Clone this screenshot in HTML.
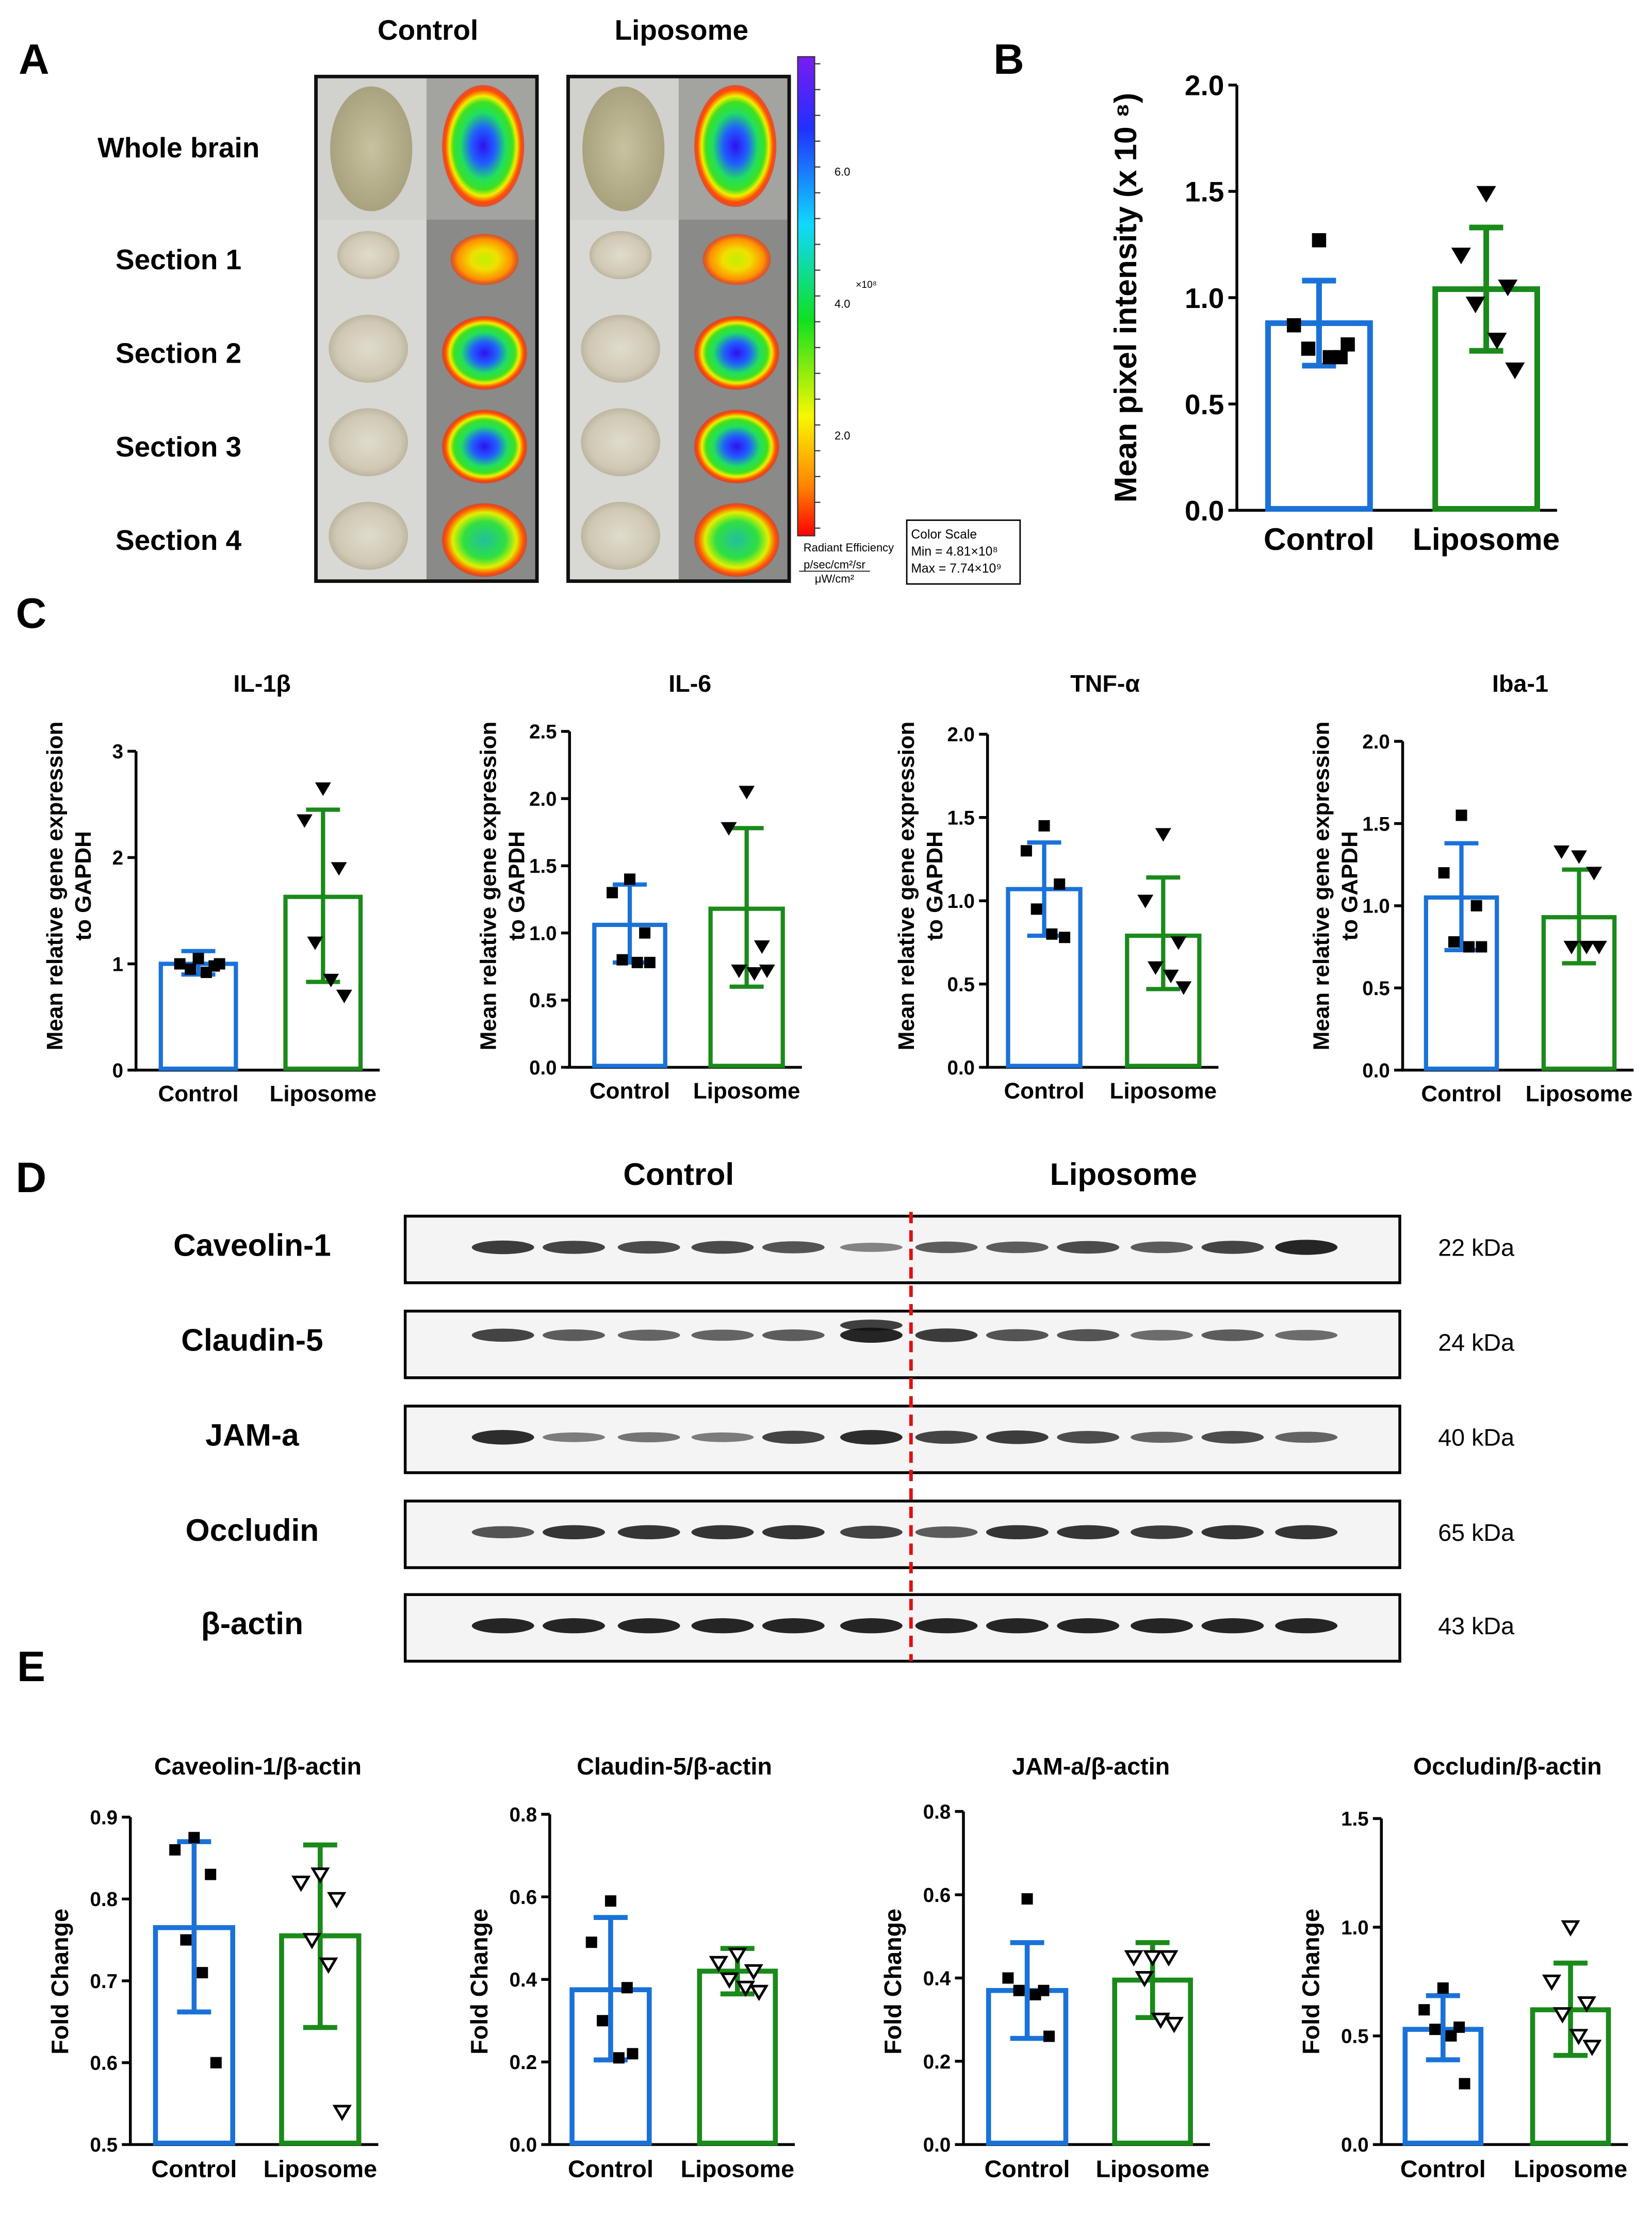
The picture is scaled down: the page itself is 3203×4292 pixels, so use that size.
<!DOCTYPE html>
<html><head><meta charset="utf-8"><style>
html,body{margin:0;padding:0;background:#fff;}
svg{display:block;font-family:"Liberation Sans",Arial,sans-serif;}
</style></head><body>
<svg id="fig" width="3203" height="4292" viewBox="0 0 1166 1562" preserveAspectRatio="none" xmlns="http://www.w3.org/2000/svg">
<defs>
<linearGradient id="cbar" x1="0" y1="0" x2="0" y2="1">
<stop offset="0" stop-color="#7a1cf0"/><stop offset="0.15" stop-color="#2030ff"/><stop offset="0.35" stop-color="#10d8ff"/><stop offset="0.55" stop-color="#10e020"/><stop offset="0.75" stop-color="#f8f800"/><stop offset="0.9" stop-color="#ff8000"/><stop offset="1" stop-color="#ff0000"/>
</linearGradient>
<radialGradient id="heat"><stop offset="0" stop-color="#3010f0"/><stop offset="0.3" stop-color="#2060ff"/><stop offset="0.55" stop-color="#20e060"/><stop offset="0.72" stop-color="#40e020"/><stop offset="0.82" stop-color="#f0f000"/><stop offset="0.92" stop-color="#ff5000"/><stop offset="1" stop-color="#ff2000" stop-opacity="0.6"/></radialGradient>
<radialGradient id="heat2"><stop offset="0" stop-color="#20c0a0"/><stop offset="0.5" stop-color="#30e040"/><stop offset="0.75" stop-color="#e0f000"/><stop offset="0.9" stop-color="#ff6000"/><stop offset="1" stop-color="#ff2000" stop-opacity="0.6"/></radialGradient>
<radialGradient id="heat3"><stop offset="0" stop-color="#c0f000"/><stop offset="0.4" stop-color="#f0e000"/><stop offset="0.8" stop-color="#ff9000"/><stop offset="1" stop-color="#ff3000" stop-opacity="0.6"/></radialGradient>
<radialGradient id="brain"><stop offset="0" stop-color="#e0dccc"/><stop offset="0.8" stop-color="#cfc8b4"/><stop offset="1" stop-color="#bdb69f"/></radialGradient>
<radialGradient id="wbrain"><stop offset="0" stop-color="#c8c2a0"/><stop offset="1" stop-color="#a9a27e"/></radialGradient>
</defs>
<g id="root"></g>
</svg>
<script>
// ---------- data ----------
const groups = ["Control", "Liposome"];
// Panel B
const bMeans = [0.88, 1.04];
const bErrLo = [0.68, 0.75];
const bErrHi = [1.08, 1.33];
const bCtrlPts = [1.27, 0.87, 0.72, 0.76, 0.72, 0.78];
const bLipoPts = [1.49, 1.20, 1.05, 0.97, 0.80, 0.66];
const bTicks = ["0.0", "0.5", "1.0", "1.5", "2.0"];
// Panel C
const cTitles = ["IL-1β", "IL-6", "TNF-α", "Iba-1"];
const cMeans = [[1.0, 1.63], [1.06, 1.18], [1.07, 0.79], [1.05, 0.93]];
const cErrLo = [[0.9, 0.83], [0.78, 0.6], [0.79, 0.47], [0.73, 0.65]];
const cErrHi = [[1.12, 2.45], [1.36, 1.78], [1.35, 1.14], [1.38, 1.22]];
const cCtrlPts = [[1.05, 1.0, 0.98, 0.95, 0.92, 1.0], [1.4, 1.3, 1.0, 0.8, 0.78, 0.78], [1.45, 1.3, 1.1, 0.95, 0.8, 0.78], [1.55, 1.2, 1.0, 0.78, 0.75, 0.75]];
const cLipoPts = [[2.65, 2.35, 1.9, 1.2, 0.85, 0.7], [2.05, 1.78, 0.9, 0.72, 0.7, 0.72], [1.4, 1.0, 0.75, 0.6, 0.55, 0.48], [1.3, 1.33, 1.2, 0.75, 0.75, 0.75]];
const cMax = [3, 2.5, 2.0, 2.0];
const cTicks = [["0", "1", "2", "3"], ["0.0", "0.5", "1.0", "1.5", "2.0", "2.5"], ["0.0", "0.5", "1.0", "1.5", "2.0"], ["0.0", "0.5", "1.0", "1.5", "2.0"]];
// Panel D
const blotNames = ["Caveolin-1", "Claudin-5", "JAM-a", "Occludin", "β-actin"];
const blotKda = ["22 kDa", "24 kDa", "40 kDa", "65 kDa", "43 kDa"];
const bandIntensity = [
 [0.8, 0.75, 0.7, 0.72, 0.65, 0.35, 0.6, 0.6, 0.7, 0.6, 0.75, 0.95],
 [0.75, 0.6, 0.55, 0.55, 0.6, 0.95, 0.8, 0.65, 0.65, 0.5, 0.6, 0.5],
 [0.9, 0.4, 0.45, 0.4, 0.75, 0.9, 0.75, 0.8, 0.7, 0.55, 0.7, 0.55],
 [0.65, 0.85, 0.85, 0.85, 0.85, 0.75, 0.6, 0.85, 0.85, 0.8, 0.85, 0.85],
 [0.95, 0.95, 0.95, 0.95, 0.95, 0.95, 0.95, 0.95, 0.95, 0.95, 0.95, 0.95]
];
// Panel E
const eTitles = ["Caveolin-1/β-actin", "Claudin-5/β-actin", "JAM-a/β-actin", "Occludin/β-actin"];
const eMeans = [[0.765, 0.755], [0.375, 0.42], [0.37, 0.395], [0.53, 0.62]];
const eErrLo = [[0.662, 0.643], [0.205, 0.365], [0.255, 0.305], [0.39, 0.41]];
const eErrHi = [[0.87, 0.866], [0.55, 0.475], [0.485, 0.485], [0.685, 0.835]];
const eCtrlPts = [[0.875, 0.86, 0.83, 0.75, 0.71, 0.6], [0.59, 0.49, 0.38, 0.3, 0.21, 0.22], [0.59, 0.4, 0.37, 0.37, 0.36, 0.26], [0.72, 0.62, 0.54, 0.53, 0.5, 0.28]];
const eLipoPts = [[0.83, 0.82, 0.8, 0.75, 0.72, 0.54], [0.46, 0.44, 0.42, 0.4, 0.38, 0.37], [0.45, 0.45, 0.45, 0.4, 0.3, 0.29], [1.0, 0.75, 0.65, 0.6, 0.5, 0.45]];
const eMin = [0.5, 0, 0, 0];
const eMax = [0.9, 0.8, 0.8, 1.5];
const eTicks = [["0.5", "0.6", "0.7", "0.8", "0.9"], ["0.0", "0.2", "0.4", "0.6", "0.8"], ["0.0", "0.2", "0.4", "0.6", "0.8"], ["0.0", "0.5", "1.0", "1.5"]];

// ---------- helpers ----------
const NS = "http://www.w3.org/2000/svg";
const root = document.getElementById("root");
function mk(tag, attrs, parent, text) {
  const e = document.createElementNS(NS, tag);
  for (const k in attrs) e.setAttribute(k, attrs[k]);
  if (text !== undefined) e.textContent = text;
  (parent || root).appendChild(e);
  return e;
}
function txt(x, y, s, size, opts) {
  opts = opts || {};
  const t = mk("text", {x: x, y: y, "font-size": size, "font-weight": opts.w || "bold", "text-anchor": opts.a || "middle", fill: opts.fill || "#000"}, opts.p, s);
  if (opts.rot) t.setAttribute("transform", "rotate(-90 " + x + " " + y + ")");
  return t;
}
const BLUE = "#1a72d8", GREEN = "#1a8a1a";

function barChart(cfg) {
  const g = mk("g", {});
  
  
  const y = v => cfg.y0 - (v - cfg.vmin) / (cfg.vmax - cfg.vmin) * (cfg.y0 - cfg.y1);
  const sw = cfg.sw || 3;
  // axes
  const ax = mk("path", {d: "M" + cfg.ax + " " + cfg.y1 + " V" + cfg.y0 + " H" + (cfg.bars[1][1] + 12), stroke: "#000", "stroke-width": 2, fill: "none"}, g);
  
  
  const n = cfg.ticks.length;
  cfg.ticks.forEach((lab, i) => {
    const v = cfg.vmin + (cfg.vmax - cfg.vmin) * i / (n - 1);
    mk("line", {x1: cfg.ax - 6, x2: cfg.ax, y1: y(v), y2: y(v), stroke: "#000", "stroke-width": 2}, g);
    const t = txt(cfg.ax - 9, y(v) + cfg.tfs * 0.36, lab, cfg.tfs, {a: "end", p: g});
    
    
  });
  [0, 1].forEach(k => {
    const col = k ? GREEN : BLUE;
    const [bx0, bx1] = cfg.bars[k];
    const cx = (bx0 + bx1) / 2;
    const r = mk("rect", {x: bx0 + sw / 2, y: y(cfg.means[k]), width: bx1 - bx0 - sw, height: cfg.y0 - y(cfg.means[k]) - 1, fill: "#fff", stroke: col, "stroke-width": sw}, g);
    
    
    const e = mk("path", {d: "M" + cx + " " + y(cfg.lo[k]) + " V" + y(cfg.hi[k]) + " M" + (cx - 12) + " " + y(cfg.lo[k]) + " H" + (cx + 12) + " M" + (cx - 12) + " " + y(cfg.hi[k]) + " H" + (cx + 12), stroke: col, "stroke-width": sw, fill: "none"}, g);
    
    
    const pts = k ? cfg.lipo : cfg.ctrl;
    const offs = [0, -14, 12, -6, 6, 16];
    const s = cfg.ms || 4;
    pts.forEach((v, i) => {
      const px = cx + offs[i % offs.length] * (bx1 - bx0) / 60;
      const py = y(v);
      let m;
      if (!k) m = mk("rect", {x: px - s, y: py - s, width: 2 * s, height: 2 * s, fill: "#000"}, g);
      else m = mk("path", {d: "M" + (px - s * 1.3) + " " + (py - s) + " H" + (px + s * 1.3) + " L" + px + " " + (py + s * 1.2) + " Z", fill: cfg.open ? "#fff" : "#000", stroke: "#000", "stroke-width": cfg.open ? 1.8 : 0.5}, g);
      
      
    });
    const xl = txt(cx, cfg.y0 + cfg.xfs + 6, groups[k], cfg.xfs, {p: g});
    
    
  });
  if (cfg.title) {
    const t = txt(cfg.tx, cfg.ty, cfg.title, 17, {p: g});
    
    
  }
  return g;
}

// ---------- panel letters ----------
[["A", 24, 52], ["B", 712, 52], ["C", 22, 443], ["D", 22, 841], ["E", 22, 1186]].forEach(p => {
  const t = txt(p[1], p[2], p[0], 30, {});
  
  
});

// ---------- Panel A ----------
(function () {
  const t1 = txt(302, 28, "Control", 20, {});
  
  
  const t2 = txt(481, 28, "Liposome", 20, {});
  
  
  const rows = [["Whole brain", 104], ["Section 1", 183], ["Section 2", 249], ["Section 3", 315], ["Section 4", 381]];
  rows.forEach(r => {
    const t = txt(126, r[1] + 7, r[0], 20, {});
    
    
  });
  const heats = [["heat", 1], ["heat3", 0], ["heat", 0], ["heat", 0], ["heat2", 0]];
  [222, 400].forEach((x0, gi) => {
    const g = mk("g", {});
    
    
    mk("rect", {x: x0, y: 53, width: 79, height: 358, fill: "#d8d8d4"}, g);
    mk("rect", {x: x0 + 79, y: 53, width: 79, height: 358, fill: "#8a8a88"}, g);
    mk("rect", {x: x0, y: 53, width: 158, height: 102, fill: "#c9c8c2", opacity: 0.4}, g);
    // whole brain
    mk("ellipse", {cx: x0 + 40, cy: 105, rx: 29, ry: 44, fill: "url(#wbrain)"}, g);
    mk("ellipse", {cx: x0 + 119, cy: 103, rx: 29, ry: 43, fill: "url(#heat)"}, g);
    [183, 249, 315, 381].forEach((cy, i) => {
      const w = i === 0 ? 22 : 28, h = i === 0 ? 17 : 24;
      mk("ellipse", {cx: x0 + 38, cy: cy - 3, rx: w, ry: h, fill: "url(#brain)"}, g);
      mk("ellipse", {cx: x0 + 120, cy: cy, rx: i === 0 ? 24 : 30, ry: i === 0 ? 18 : 26, fill: "url(#" + heats[i + 1][0] + ")"}, g);
    });
    mk("rect", {x: x0 + 1, y: 54, width: 156, height: 356, fill: "none", stroke: "#111", "stroke-width": 2.5}, g);
  });
  const cb = mk("rect", {x: 563, y: 40, width: 12, height: 338, fill: "url(#cbar)", stroke: "#333", "stroke-width": 0.8});
  
  
  for (let i = 0; i < 19; i++) mk("line", {x1: 575, x2: 579, y1: 45 + i * 18.2, y2: 45 + i * 18.2, stroke: "#333", "stroke-width": 0.8});
  [["6.0", 124], ["4.0", 217], ["2.0", 310]].forEach(l => {
    const t = txt(589, l[1], l[0], 8, {a: "start", w: "normal"});
    
    
  });
  txt(604, 203, "×10⁸", 7, {a: "start", w: "normal"});
  txt(599, 389, "Radiant Efficiency", 8, {w: "normal"});
  txt(589, 401, "p/sec/cm²/sr", 8, {w: "normal"});
  mk("line", {x1: 564, x2: 614, y1: 403, y2: 403, stroke: "#000", "stroke-width": 0.6});
  txt(589, 411, "μW/cm²", 8, {w: "normal"});
  const box = mk("rect", {x: 640, y: 367, width: 80, height: 45, fill: "#fff", stroke: "#000", "stroke-width": 1});
  
  
  txt(643, 380, "Color Scale", 9, {a: "start", w: "normal"});
  txt(643, 392, "Min = 4.81×10⁸", 9, {a: "start", w: "normal"});
  txt(643, 404, "Max = 7.74×10⁹", 9, {a: "start", w: "normal"});
})();

// ---------- Panel B ----------
barChart({name: "panel-b-chart", ax: 873, y0: 360, y1: 60, vmin: 0, vmax: 2, ticks: bTicks, tfs: 20,
  bars: [[893, 969], [1011, 1087]], means: bMeans, lo: bErrLo, hi: bErrHi, ctrl: bCtrlPts, lipo: bLipoPts, xfs: 22, sw: 4, ms: 5});
(function () {
  const t = txt(802, 210, "Mean pixel intensity (x 10 ⁸)", 22, {rot: true});
  
  
})();

// ---------- Panel C ----------
const cAx = [[96, 755, 530], [402, 753, 516], [697, 753, 518], [990, 755, 523]];
const cBars = [[[112, 168], [200, 256]], [[418, 471], [500, 554]], [[710, 764], [794, 848]], [[1005, 1058], [1088, 1141]]];
const cTitleX = [185, 487, 780, 1073];
for (let i = 0; i < 4; i++) {
  barChart({name: "gene-chart-" + (i + 1), ax: cAx[i][0], y0: cAx[i][1], y1: cAx[i][2], vmin: 0, vmax: cMax[i], ticks: cTicks[i], tfs: 14,
    bars: cBars[i], means: cMeans[i], lo: cErrLo[i], hi: cErrHi[i], ctrl: cCtrlPts[i], lipo: cLipoPts[i], xfs: 16, sw: 3, ms: 4,
    title: cTitles[i], tx: cTitleX[i], ty: 488});
  const yl1 = txt(cAx[i][0] - 52, 625, "Mean relative gene expression", 16, {rot: true});
  
  
  const yl2 = txt(cAx[i][0] - 32, 625, "to GAPDH", 16, {rot: true});
  
  
}

// ---------- Panel D ----------
(function () {
  const t1 = txt(479, 836, "Control", 22, {});
  
  
  const t2 = txt(793, 836, "Liposome", 22, {});
  
  
  const rowsY = [858, 925, 992, 1059, 1125];
  const lanes = [355, 405, 458, 510, 560, 615, 668, 718, 768, 820, 870, 922];
  blotNames.forEach((nm, r) => {
    const y0 = rowsY[r];
    const g = mk("g", {});
    
    
    mk("rect", {x: 286, y: y0, width: 702, height: 47, fill: "#f4f4f4", stroke: "#000", "stroke-width": 2}, g);
    const by = y0 + (r === 1 ? 17 : 22);
    lanes.forEach((lx, i) => {
      const v = bandIntensity[r][i];
      const band = mk("ellipse", {cx: lx, cy: by, rx: 22, ry: 2 + v * 3.5, fill: "#111", opacity: 0.25 + v * 0.7}, g);
      
      
    });
    if (r === 1) mk("ellipse", {cx: 615, cy: y0 + 10, rx: 22, ry: 4, fill: "#111", opacity: 0.8}, g);
    const lab = txt(178, y0 + 28, nm, 22, {});
    
    
    const kd = txt(1015, y0 + 28, blotKda[r], 17, {a: "start", w: "normal"});
    
    
  });
  const dl = mk("line", {x1: 643, x2: 643, y1: 855, y2: 1172, stroke: "#e01010", "stroke-width": 2.5, "stroke-dasharray": "8,5"});
  
  
})();

// ---------- Panel E ----------
const eAx = [[92, 1513, 1282], [388, 1513, 1280], [680, 1513, 1278], [975, 1513, 1283]];
const eBars = [[[108, 166], [197, 255]], [[402, 460], [492, 549]], [[696, 754], [785, 842]], [[990, 1047], [1080, 1137]]];
const eTitleX = [182, 476, 770, 1064];
for (let i = 0; i < 4; i++) {
  barChart({name: "fold-change-chart-" + (i + 1), ax: eAx[i][0], y0: eAx[i][1], y1: eAx[i][2], vmin: eMin[i], vmax: eMax[i], ticks: eTicks[i], tfs: 14,
    bars: eBars[i], means: eMeans[i], lo: eErrLo[i], hi: eErrHi[i], ctrl: eCtrlPts[i], lipo: eLipoPts[i], xfs: 17, sw: 3.5, ms: 4, open: true,
    title: eTitles[i], tx: eTitleX[i], ty: 1252});
  const yl = txt(eAx[i][0] - 44, 1398, "Fold Change", 17, {rot: true});
  
  
}
</script>
</body></html>
